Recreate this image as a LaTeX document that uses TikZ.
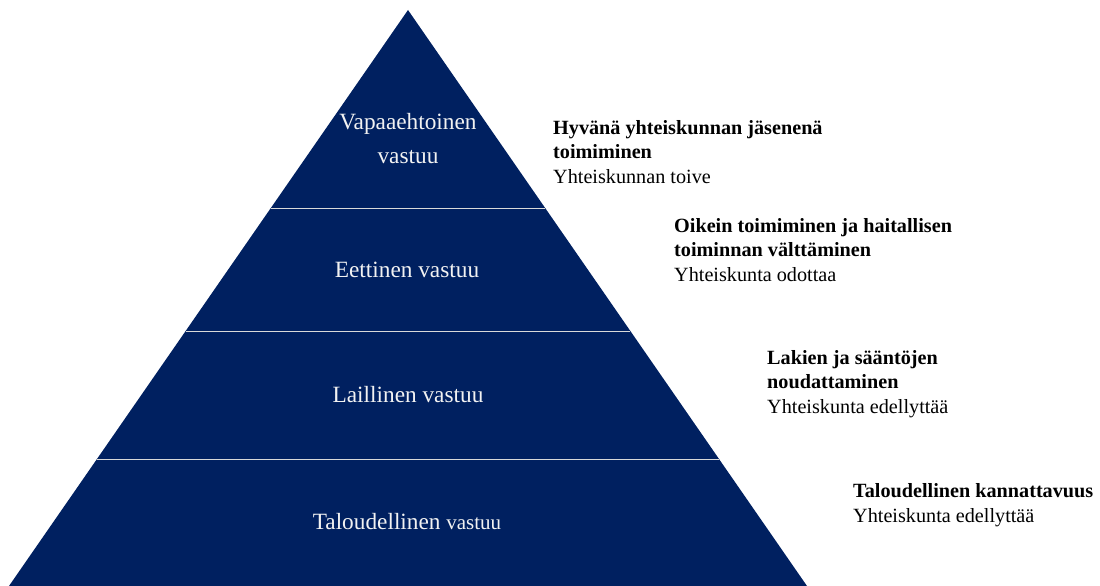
\documentclass[tikz,border=0pt]{standalone}
\usepackage{fontspec}
\setmainfont{Liberation Serif}
\usetikzlibrary{positioning}
\definecolor{pyrblue}{HTML}{002060}

\begin{document}
\begin{tikzpicture}[
  x=1pt, y=-1pt,
  level/.style={text=white!95!black, align=center, inner sep=0pt, font=\fontsize{23.3}{34}\selectfont},
  note/.style={anchor=west, align=left, inner sep=0pt, font=\fontsize{20.2}{24.5}\selectfont},
  divider/.style={draw=white!85!black, line width=1pt}
]
\useasboundingbox (0,0) rectangle (1100,586);

% Pyramid body
\coordinate (apex) at (408,10);
\coordinate (baseL) at (9,586);
\coordinate (baseR) at (807,586);
\fill[pyrblue] (apex) -- (baseR) -- (baseL) -- cycle;

% Level dividers
\draw[divider] (271,208) -- (545,208);
\draw[divider] (186,331) -- (630,331);
\draw[divider] (97,459) -- (719,459);

% Level labels
\node[level] (vapaa) at (408,139) {Vapaaehtoinen\\vastuu};
\node[level] (eettinen) at (407,270) {Eettinen vastuu};
\node[level] (laillinen) at (408,395) {Laillinen vastuu};
\node[level] (talous) at (407,522) {Taloudellinen {\fontsize{21}{24}\selectfont vastuu}};

% Descriptions on the right
\node[note] (hyva) at (553,152) {\textbf{Hyvänä yhteiskunnan jäsenenä}\\\textbf{toimiminen}\\Yhteiskunnan toive};
\node[note] (oikein) at (674,250) {\textbf{Oikein toimiminen ja haitallisen}\\\textbf{toiminnan välttäminen}\\Yhteiskunta odottaa};
\node[note] (lakien) at (767,384) {\textbf{Lakien ja sääntöjen}\\\textbf{noudattaminen}\\Yhteiskunta edellyttää};
\node[note] (kannatt) at (853,505) {\textbf{Taloudellinen kannattavuus}\\Yhteiskunta edellyttää};

\end{tikzpicture}
\end{document}
